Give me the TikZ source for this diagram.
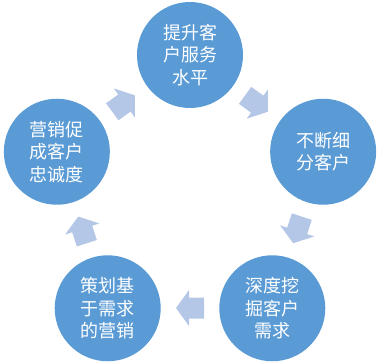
\documentclass[tikz,border=0pt]{standalone}
\usepackage{fontspec}
\newfontfamily\cjk{Noto Sans CJK SC}
\definecolor{circblue}{HTML}{5B9BD5}
\definecolor{arrblue}{HTML}{B4C7E7}
\tikzset{
  stage/.style={circle, fill=circblue, minimum size=106pt, inner sep=0pt,
    text=white, align=center, font=\cjk\fontsize{18}{22.5}\selectfont},
  blockarrow/.style={fill=arrblue}
}
\begin{document}
\begin{tikzpicture}[x=1pt,y=1pt]
\useasboundingbox (-190,-167) rectangle (189,195);
\node[stage] (s1) at (90:140) {提升客\\户服务\\水平};
\node[stage] (s2) at (18:140) {不断细\\分客户};
\node[stage] (s3) at (-54:140) {深度挖\\掘客户\\需求};
\node[stage] (s4) at (-126:140) {策划基\\于需求\\的营销};
\node[stage] (s5) at (162:140) {营销促\\成客户\\忠诚度};
\foreach \a in {126,54,-18,-90,-162}{
  \fill[blockarrow, shift={(\a:113)}, rotate=\a-90]
    (-14,-10.5) -- (1,-10.5) -- (1,-18) -- (14,0) -- (1,18) -- (1,10.5) -- (-14,10.5) -- cycle;
}
\end{tikzpicture}
\end{document}
